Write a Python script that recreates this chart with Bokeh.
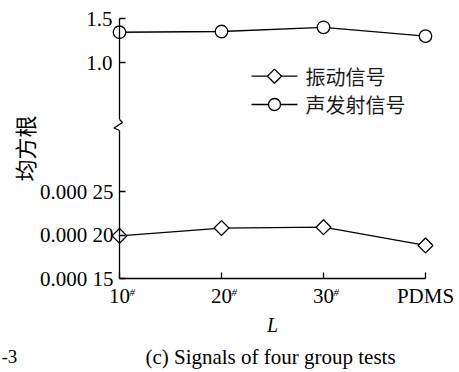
import math
from bokeh.plotting import figure
from bokeh.models import Range1d, LinearAxis, FixedTicker
from bokeh.core.properties import value
from bokeh.embed import file_html
from bokeh.resources import INLINE

# ---- data ----
categories = ["10", "20", "30", "PDMS"]
cat_sup = ["#", "#", "#", ""]
vib = [0.000199, 0.000208, 0.000209, 0.000188]      # 振动信号 (lower panel)
ae = [1.344, 1.352, 1.40, 1.30]                     # 声发射信号 (upper panel)
low_ticks = [0.00015, 0.00020, 0.00025]
low_tick_labels = ["0.000 15", "0.000 20", "0.000 25"]
up_ticks = [1.0, 1.5]
up_tick_labels = ["1.0", "1.5"]
legend_labels = ["振动信号", "声发射信号"]
legend_markers = ["square", "circle"]
y_label = "均方根"
x_label = "L"
caption = "(c) Signals of four group tests"
side_text = "-3"

# ---- scales (whole canvas is the frame; axes sit at fixed locations) ----
W, H = 459, 372
AX_X, AX_Y = 119, 278          # pixel position of the axes corner
PX_X = 1 / 102.0               # category units per pixel
PX_LOW = 0.0001 / 87.0         # lower-panel units per pixel
PX_UP = 1 / 88.0               # upper-panel units per pixel
LOW0 = low_ticks[0]
UP1 = up_ticks[-1]
UP_TOP_PX = 18                 # pixel row of 1.5

x_start = -AX_X * PX_X
x_end = (W - AX_X) * PX_X
low_start = LOW0 - (H - AX_Y) * PX_LOW
low_end = LOW0 + AX_Y * PX_LOW
up_end = UP1 + UP_TOP_PX * PX_UP
up_start = UP1 - (H - UP_TOP_PX) * PX_UP

LOW_BREAK = LOW0 + 148 * PX_LOW     # lower axis line ends here
UP_BREAK = UP1 - 101 * PX_UP        # upper axis line starts here

xs = list(range(len(categories)))
SERIF = "Liberation Serif"
CJK = "Noto Sans CJK SC"

p = figure(width=W, height=H, output_backend="svg", toolbar_location=None,
           x_range=Range1d(x_start, x_end), y_range=Range1d(low_start, low_end),
           x_axis_type=None, y_axis_type=None,
           min_border_left=0, min_border_right=0, min_border_top=0,
           min_border_bottom=0)
p.outline_line_color = None
p.background_fill_color = "white"
p.border_fill_color = "white"
p.extra_y_ranges = {"up": Range1d(up_start, up_end)}


def style_axis(ax, size="21px"):
    ax.axis_line_color = "black"
    ax.axis_line_width = 1.3
    ax.major_tick_line_color = "black"
    ax.major_tick_line_width = 1.3
    ax.major_tick_in = 6
    ax.major_tick_out = 0
    ax.minor_tick_in = 0
    ax.minor_tick_out = 0
    ax.major_label_text_font = SERIF
    ax.major_label_text_font_size = size
    ax.major_label_text_color = "black"


ly = LinearAxis(ticker=FixedTicker(ticks=low_ticks),
                major_label_overrides=dict(zip(low_ticks, low_tick_labels)),
                bounds=(LOW0, LOW_BREAK), fixed_location=0)
style_axis(ly, "21px")
ly.major_label_standoff = 6
p.add_layout(ly, "left")

uy = LinearAxis(y_range_name="up", ticker=FixedTicker(ticks=up_ticks),
                major_label_overrides=dict(zip(up_ticks, up_tick_labels)),
                bounds=(UP_BREAK, UP1), fixed_location=0)
style_axis(uy, "21px")
uy.major_label_standoff = 7
p.add_layout(uy, "left")

bx = LinearAxis(ticker=FixedTicker(ticks=xs),
                major_label_overrides=dict(zip(xs, categories)),
                bounds=(xs[0], xs[-1]), axis_label=x_label,
                fixed_location=LOW0)
style_axis(bx, "21px")
bx.major_label_standoff = 5
bx.axis_label_text_font = SERIF
bx.axis_label_text_font_style = "italic"
bx.axis_label_text_font_size = "20px"
bx.axis_label_text_color = "black"
bx.axis_label_standoff = 3
p.add_layout(bx, "below")

# break zig-zag on the y axis
zx = [0, 3 * PX_X, -5.5 * PX_X, 0]
zy = [LOW_BREAK + 11 * PX_LOW, LOW_BREAK + 8 * PX_LOW,
      LOW_BREAK + 2.5 * PX_LOW, LOW_BREAK]
p.line(zx, zy, line_color="black", line_width=1.3)

# series
p.line(xs, vib, line_color="black", line_width=1.3)
p.scatter(xs, vib, marker="square", angle=math.pi / 4, size=10.5,
          fill_color="white", line_color="black", line_width=1.3)
p.line(xs, ae, y_range_name="up", line_color="black", line_width=1.3)
p.scatter(xs, ae, y_range_name="up", marker="circle", size=12.5,
          fill_color="white", line_color="black", line_width=1.3)

# legend (drawn in the upper panel's units)
leg_x0 = (251 - AX_X) * PX_X
leg_x1 = (297 - AX_X) * PX_X
leg_xm = (274 - AX_X) * PX_X
leg_xt = (305 - AX_X) * PX_X
leg_rows = [UP1 - (75.7 - UP_TOP_PX) * PX_UP, UP1 - (104 - UP_TOP_PX) * PX_UP]
for lab, mk, yy in zip(legend_labels, legend_markers, leg_rows):
    p.line([leg_x0, leg_x1], [yy, yy], y_range_name="up",
           line_color="black", line_width=1.3)
    p.scatter([leg_xm], [yy], y_range_name="up", marker=mk,
              angle=math.pi / 4 if mk == "square" else 0,
              size=10 if mk == "square" else 12,
              fill_color="white", line_color="black", line_width=1.3)
    p.text([leg_xt], [yy], text=[lab], y_range_name="up",
           text_font=value(CJK), text_font_size="20px",
           text_align="left", text_baseline="middle", text_color="#1a1a1a")

# superscript marks on tick labels
sx = [x for x, s in zip(xs, cat_sup) if s]
st = [s for s in cat_sup if s]
p.text(sx, [LOW0 - 13 * PX_LOW] * len(sx), text=st, x_offset=10,
       text_font=value(SERIF), text_font_style="italic", text_font_size="11px",
       text_align="left", text_baseline="middle", text_color="black")

# y axis title centred over both panels
p.text([(23 - AX_X) * PX_X], [LOW0 + (AX_Y - 148) * PX_LOW], text=[y_label],
       angle=math.pi / 2, text_align="center", text_baseline="middle",
       text_font=value(CJK), text_font_size="22px", text_color="black")

# caption and neighbour text at the left edge
p.text([(270 - AX_X) * PX_X], [LOW0 - 78 * PX_LOW], text=[caption],
       text_align="center", text_baseline="middle",
       text_font=value(SERIF), text_font_size="21px", text_color="black")
p.text([(1 - AX_X) * PX_X], [LOW0 - 78 * PX_LOW], text=[side_text],
       text_align="left", text_baseline="middle",
       text_font=value(SERIF), text_font_size="19px", text_color="black")

open("out.html", "w").write(file_html(p, INLINE))
